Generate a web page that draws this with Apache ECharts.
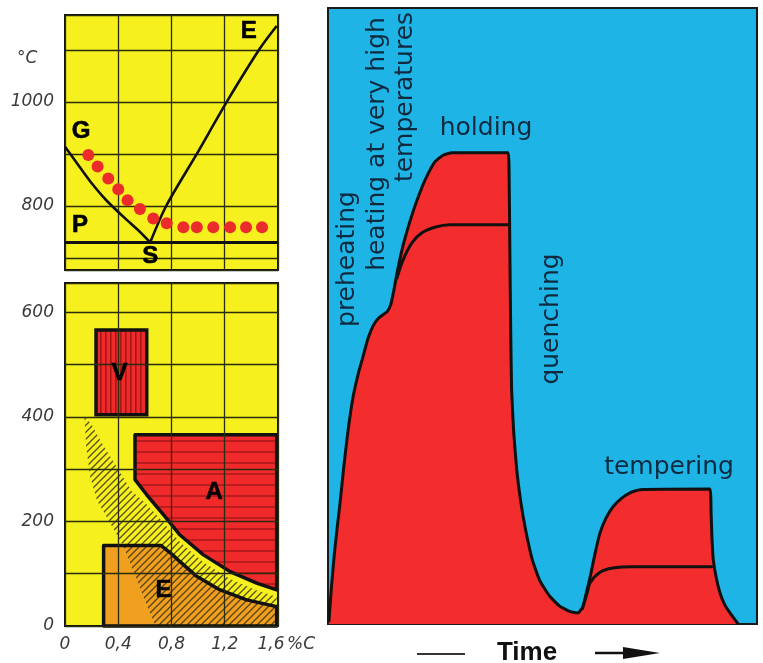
<!DOCTYPE html>
<html><head><meta charset="utf-8">
<script src="https://cdn.jsdelivr.net/npm/echarts@6/dist/echarts.min.js"></script>
<style>html,body{margin:0;padding:0;background:#fff}#c{width:763px;height:663px}</style>
</head><body><div id="c"></div>
<script>
// ---------- data ----------
const carbonTicks = [0, 0.4, 0.8, 1.2, 1.6];
const tempTicksTop = [800, 1000];
const tempTicksBottom = [0, 200, 400, 600];

// Fe-C diagram (top left) : [%C, °C]
const gLine = [[0,914],[0.09,882],[0.19,847],[0.31,811],[0.44,779],[0.56,751],[0.64,730]];
const eLine = [[0.64,730],[0.76,800],[0.99,900],[1.215,1000],[1.465,1103],[1.59,1146]];
const psLine = [[0,730],[1.6,730]];
const hardeningDots = [[0.175,898],[0.245,876],[0.325,853],[0.40,832],[0.47,811],[0.563,794],[0.663,776],[0.764,767],[0.889,759],[0.99,759],[1.114,759],[1.24,759],[1.36,759],[1.48,759]];
const topLetters = [[0.12,944,'G'],[0.113,762,'P'],[0.64,704,'S'],[1.38,1135,'E']];

// tempering regions (bottom left) : [%C, °C]
const vRegion = [[0.233,404],[0.614,404],[0.614,566],[0.233,566]];
const aRegion = [[0.526,366],[1.59,366],[1.59,69],[1.44,82],[1.24,104],[1.04,136],[0.864,174],[0.739,213],[0.614,251],[0.526,280]];
const eRegion = [[0.29,0],[0.29,154],[0.72,154],[0.80,138],[0.864,123],[0.989,95],[1.165,69],[1.365,50],[1.59,37],[1.59,0]];
const hatchBand = [[0.145,402],[0.20,385],[0.30,340],[0.40,300],[0.50,258],[0.60,236],[0.74,198],[0.864,160],[1.04,122],[1.24,90],[1.44,68],[1.59,56],[1.59,0],[0.68,0],[0.64,24],[0.54,88],[0.44,152],[0.31,210],[0.24,240],[0.19,285],[0.16,340]];
const bottomLetters = [[0.41,483,'V'],[1.12,255,'A'],[0.74,69,'E']];

// heat treatment cycle (right) : [time, temperature] in relative units 0..100
const outerCurve = [[0.2,0.3],[0.8,6],[1.5,11.5],[2.2,16],[2.8,19.6],[3.6,25],[4.6,31],[5.8,36.7],[7.0,40.5],[8.2,43.5],[9.3,46.3],[10.5,48.4],[11.7,49.6],[13.0,50.3],[13.8,50.7],[14.6,51.8],[15.3,54],[16.1,57],[17.0,60],[17.9,62.5],[19.8,66.9],[21.9,70.9],[23.4,73.2],[24.9,75.0],[26.8,76.1],[28.9,76.5],[42.0,76.5],[42.2,74],[42.4,60],[42.6,47],[42.8,38],[43.3,31],[44.0,25],[44.9,20],[46.0,15.5],[47.6,10.5],[49.4,7],[51.7,4.5],[54.0,2.9],[56.5,2.0],[58.3,1.8],[59.4,2.8],[60.2,5],[61.1,7.6],[62.2,11.3],[63.4,14.8],[64.8,17.2],[66.4,19.0],[68.4,20.4],[70.4,21.3],[72.7,21.8],[89.0,21.9],[89.3,18],[89.5,14],[89.8,10.5],[90.5,7.5],[91.4,5.0],[92.5,3.1],[93.7,1.8],[95.6,0]];
const innerHold = [[16.0,56.0],[17.5,59.1],[19.6,61.9],[21.9,63.5],[24.9,64.4],[28.4,64.8],[42.3,64.8]];
const innerTemper = [[59.2,2.3],[60.4,5.0],[61.1,6.7],[63.4,8.4],[66.4,9.1],[71.1,9.3],[89.7,9.3]];

// ---------- styles ----------
const YELLOW = '#f5f01e', RED = '#f02a2a', ORANGE = '#f0a01e', BLUE = '#1eb4e6', INK = '#111';
function pattern(w, h, bg, draw) {
  const c = document.createElement('canvas'); c.width = w; c.height = h;
  const ctx = c.getContext('2d');
  if (bg) { ctx.fillStyle = bg; ctx.fillRect(0, 0, w, h); }
  draw(ctx, w, h);
  return { image: c, repeat: 'repeat' };
}
const hatchFill = pattern(7, 7, null, (ctx) => {
  ctx.strokeStyle = 'rgba(60,50,20,0.85)'; ctx.lineWidth = 1.3; ctx.beginPath();
  ctx.moveTo(-1, 8); ctx.lineTo(8, -1); ctx.moveTo(-1, 1); ctx.lineTo(1, -1); ctx.moveTo(6, 8); ctx.lineTo(8, 6); ctx.stroke();
});
const aFill = pattern(4, 11, RED, (ctx) => { ctx.fillStyle = '#b81c1c'; ctx.fillRect(0, 0, 4, 2); });
const vFill = pattern(5, 4, RED, (ctx) => { ctx.fillStyle = '#a51818'; ctx.fillRect(0, 0, 1.6, 4); });

const labelFont = { fontFamily: 'DejaVu Sans', fontStyle: 'italic', fontSize: 17, color: '#3a3a3a' };
const split = { show: true, lineStyle: { color: '#2b2b10', width: 1.3 } };
const near = (v, arr) => arr.some(t => Math.abs(t - v) < 1e-6);

function poly(pts, style, z) {
  return {
    type: 'custom', xAxisIndex: 1, yAxisIndex: 1, z: z, silent: true, data: [[pts[0][0], pts[0][1]]],
    renderItem: (params, api) => ({ type: 'polygon', shape: { points: pts.map(p => api.coord(p)) }, style: style })
  };
}
const rightText = (txt, x, y, rot) => ({
  type: 'text', x: x, y: y, rotation: rot ? Math.PI / 2 : 0, z: 50,
  style: { text: txt, fontFamily: 'DejaVu Sans', fontSize: 25, fill: '#0f2a3f', textAlign: 'center', textVerticalAlign: 'middle', verticalAlign: 'middle' }
});

const chart = echarts.init(document.getElementById('c'));
chart.setOption({
  animation: false,
  backgroundColor: '#fff',
  grid: [
    { left: 65, top: 15, width: 213, height: 255, show: true, backgroundColor: YELLOW, borderColor: INK, borderWidth: 2, containLabel: false, outerBoundsMode: 'none' },
    { left: 65, top: 283, width: 213, height: 343, show: true, backgroundColor: YELLOW, borderColor: INK, borderWidth: 2, containLabel: false, outerBoundsMode: 'none' },
    { left: 328, top: 8, width: 429, height: 616, show: true, backgroundColor: BLUE, borderColor: '#1a1a1a', borderWidth: 2, containLabel: false, outerBoundsMode: 'none' }
  ],
  xAxis: [
    { type: 'value', gridIndex: 0, min: 0, max: 1.6, interval: 0.4, axisLine: { show: false }, axisTick: { show: false }, axisLabel: { show: false }, splitLine: split },
    { type: 'value', gridIndex: 1, min: 0, max: 1.6, interval: 0.4, z: 10, axisLine: { show: false }, axisTick: { show: false },
      axisLabel: Object.assign({ margin: 10,
        formatter: v => {
          if (!near(v, carbonTicks)) return '';
          const s = String(+v.toFixed(1)).replace('.', ',');
          return Math.abs(v - 1.6) < 1e-6 ? '{s|' + s + '}' : s;
        },
        rich: { s: { fontFamily: 'DejaVu Sans', fontStyle: 'italic', fontSize: 17, color: '#3a3a3a', padding: [0, 14, 0, 0] } }
      }, labelFont), splitLine: split },
    { type: 'value', gridIndex: 2, min: 0, max: 100, show: false }
  ],
  yAxis: [
    { type: 'value', gridIndex: 0, min: 677, max: 1167, splitNumber: 5, axisLine: { show: false }, axisTick: { show: false },
      axisLabel: Object.assign({ margin: 11, formatter: v => near(v, tempTicksTop) ? String(v) : '' }, labelFont), splitLine: split },
    { type: 'value', gridIndex: 1, min: 0, max: 656, interval: 100, z: 10, axisLine: { show: false }, axisTick: { show: false },
      axisLabel: Object.assign({ margin: 11, formatter: v => near(v, tempTicksBottom) ? String(v) : '' }, labelFont), splitLine: split },
    { type: 'value', gridIndex: 2, min: 0, max: 100, show: false }
  ],
  series: [
    { type: 'line', xAxisIndex: 0, yAxisIndex: 0, data: psLine, symbol: 'none', lineStyle: { color: INK, width: 3 }, z: 3 },
    { type: 'line', xAxisIndex: 0, yAxisIndex: 0, data: gLine, symbol: 'none', smooth: 0.3, lineStyle: { color: INK, width: 2.6 }, z: 3 },
    { type: 'line', xAxisIndex: 0, yAxisIndex: 0, data: eLine, symbol: 'none', smooth: 0.3, lineStyle: { color: INK, width: 2.6 }, z: 3 },
    { type: 'scatter', xAxisIndex: 0, yAxisIndex: 0, data: hardeningDots, symbolSize: 12, itemStyle: { color: '#ec2c2a', opacity: 1 }, z: 4 },

    poly(eRegion, { fill: ORANGE }, 2),
    poly(hatchBand, { fill: hatchFill }, 3),
    poly(eRegion, { fill: 'none', stroke: INK, lineWidth: 3.5, lineJoin: 'round' }, 4),
    poly(aRegion, { fill: aFill, stroke: INK, lineWidth: 3.5, lineJoin: 'round' }, 5),
    poly(vRegion, { fill: vFill, stroke: INK, lineWidth: 3.5 }, 5),

    { type: 'line', xAxisIndex: 2, yAxisIndex: 2, data: outerCurve, symbol: 'none', smooth: 0.15, lineStyle: { color: INK, width: 3 }, areaStyle: { color: '#f32d2d', opacity: 1 }, z: 3 },
    { type: 'line', xAxisIndex: 2, yAxisIndex: 2, data: innerHold, symbol: 'none', smooth: 0.3, lineStyle: { color: INK, width: 3 }, z: 4 },
    { type: 'line', xAxisIndex: 2, yAxisIndex: 2, data: innerTemper, symbol: 'none', smooth: 0.3, lineStyle: { color: INK, width: 3 }, z: 4 }
  ]
});

const baseGraphics = [
  { type: 'text', x: 17, y: 59, style: { text: '°C', fontFamily: 'DejaVu Sans', fontStyle: 'italic', fontSize: 17, fill: '#3a3a3a', textVerticalAlign: 'middle', verticalAlign: 'middle' } },
  { type: 'text', x: 287, y: 645, style: { text: '%C', fontFamily: 'DejaVu Sans', fontStyle: 'italic', fontSize: 17, fill: '#3a3a3a', textVerticalAlign: 'middle', verticalAlign: 'middle' } },
  rightText('preheating', 347, 259, true),
  rightText('heating at very high', 377, 144, true),
  rightText('temperatures', 405, 97, true),
  rightText('holding', 486, 128, false),
  rightText('quenching', 551, 319, true),
  rightText('tempering', 669, 467, false),
  { type: 'text', x: 527, y: 653, style: { text: 'Time', fontFamily: 'Liberation Sans', fontWeight: 'bold', fontSize: 26, fill: INK, textAlign: 'center', textVerticalAlign: 'middle', verticalAlign: 'middle' } },
  { type: 'line', shape: { x1: 417, y1: 654, x2: 465, y2: 654 }, style: { stroke: '#333', lineWidth: 2 } },
  { type: 'line', shape: { x1: 595, y1: 653, x2: 630, y2: 653 }, style: { stroke: INK, lineWidth: 2.5 } },
  { type: 'polygon', shape: { points: [[623, 647], [660, 653], [623, 659]] }, style: { fill: INK } }
];

// region letters, positioned through the axes' own scales
const letterGraphics = [];
[[topLetters, 0], [bottomLetters, 1]].forEach(([arr, gi]) => {
  arr.forEach(d => {
    const p = chart.convertToPixel({ gridIndex: gi }, [d[0], d[1]]);
    letterGraphics.push({ type: 'text', x: p[0], y: p[1], z: 100, zlevel: 2,
      style: { text: d[2], fontFamily: 'Liberation Sans', fontWeight: 'bold', fontSize: 24, fill: '#000', opacity: 1,
        textAlign: 'center', textVerticalAlign: 'middle', verticalAlign: 'middle', stroke: '#000', lineWidth: 0.6 } });
  });
});
chart.setOption({ graphic: baseGraphics.concat(letterGraphics) });
</script></body></html>
